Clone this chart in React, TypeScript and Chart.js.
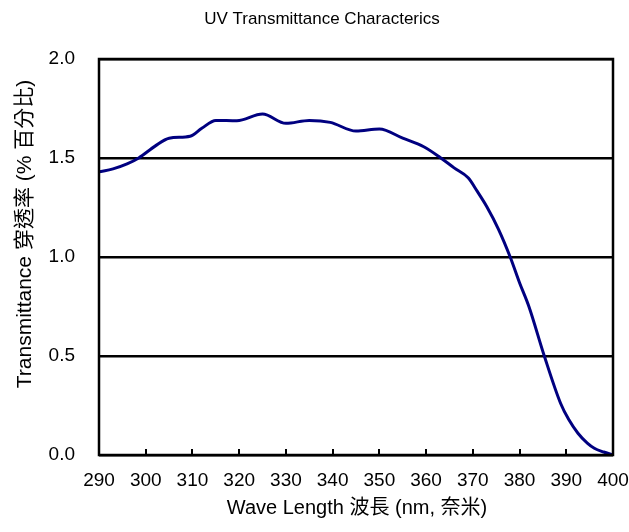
import React, { useEffect, useRef } from "react";
import { Chart, registerables } from "chart.js";

Chart.register(...registerables);

const TITLE = "UV Transmittance Characterics";
const X_TITLE = "Wave Length 波長 (nm, 奈米)";
const Y_TITLE = "Transmittance 穿透率 (% 百分比)";

const wavelengths = [
  290, 293, 296, 298.5, 302, 305, 309.5, 312, 315, 319.5, 325, 330, 335, 339.5,
  345, 350, 355, 359.5, 363, 366, 369, 371, 373, 375.5, 378, 380, 382, 385.3,
  388.8, 390.5, 392.5, 394.5, 396, 398, 400,
];
const transmittance = [
  1.43, 1.445, 1.47, 1.5, 1.56, 1.6, 1.61, 1.65, 1.69, 1.688, 1.722, 1.675, 1.69, 1.68,
  1.636, 1.646, 1.6, 1.557, 1.503, 1.45, 1.4, 1.33, 1.254, 1.14, 1.0, 0.87, 0.75, 0.5,
  0.26, 0.18, 0.11, 0.06, 0.034, 0.015, 0.0,
];
const xTicks = [290, 300, 310, 320, 330, 340, 350, 360, 370, 380, 390, 400];

const FONT = "'Liberation Sans', Arial, 'Noto Sans CJK TC', sans-serif";

const decor = {
  id: "decor",
  afterDraw(chart: any) {
    const ctx = chart.ctx;
    const { left, right, top, bottom } = chart.chartArea;
    const xs = chart.scales.x;
    ctx.save();
    ctx.strokeStyle = "#000";
    ctx.lineWidth = 2;
    ctx.beginPath();
    for (const t of xTicks) {
      const px = Math.round(xs.getPixelForValue(t));
      ctx.moveTo(px, bottom);
      ctx.lineTo(px, bottom - 6);
    }
    ctx.stroke();
    ctx.lineWidth = 2.5;
    ctx.strokeRect(left, top, right - left, bottom - top);
    ctx.fillStyle = "#000";
    ctx.textAlign = "center";
    ctx.textBaseline = "middle";
    ctx.font = `17px ${FONT}`;
    ctx.fillText(TITLE, 322, 19);
    ctx.font = `20px ${FONT}`;
    ctx.fillText(X_TITLE, 357, 508);
    ctx.translate(25, 234);
    ctx.rotate(-Math.PI / 2);
    ctx.font = `21px ${FONT}`;
    ctx.fillText(Y_TITLE, 0, 0);
    ctx.restore();
  },
};

export default function App() {
  const ref = useRef<HTMLCanvasElement>(null);
  useEffect(() => {
    document.body.style.margin = "0";
    const chart = new Chart(ref.current!, {
      type: "line",
      data: {
        datasets: [
          {
            data: wavelengths.map((x, i) => ({ x, y: transmittance[i] })),
            borderColor: "#000080",
            borderWidth: 3,
            pointRadius: 0,
            cubicInterpolationMode: "monotone",
            fill: false,
          },
        ],
      },
      options: {
        animation: false,
        responsive: false,
        layout: { padding: { top: 59, right: 0, left: 0, bottom: 0 } },
        plugins: { legend: { display: false }, title: { display: false }, tooltip: { enabled: false } },
        scales: {
          x: {
            type: "linear",
            min: 290,
            max: 400,
            afterBuildTicks: (s: any) => {
              s.ticks = xTicks.map((v) => ({ value: v }));
            },
            afterFit: (s: any) => {
              s.height = 77;
              s.paddingRight = 16;
            },
            grid: { display: false, drawTicks: false },
            border: { display: false },
            ticks: { color: "#000", font: { size: 19, family: FONT }, padding: 14, maxRotation: 0, autoSkip: false },
          },
          y: {
            min: 0,
            max: 2,
            afterFit: (s: any) => {
              s.width = 99;
            },
            grid: { color: "#000", lineWidth: 2.5, drawTicks: false },
            border: { display: false },
            ticks: {
              stepSize: 0.5,
              color: "#000",
              padding: 24,
              font: { size: 19, family: FONT },
              callback: (v: any) => Number(v).toFixed(1),
            },
          },
        },
      },
      plugins: [decor],
    });
    return () => chart.destroy();
  }, []);
  return (
    <div style={{ width: 629, height: 532, overflow: "hidden" }}>
      <canvas ref={ref} width={629} height={532} style={{ display: "block" }} />
    </div>
  );
}
